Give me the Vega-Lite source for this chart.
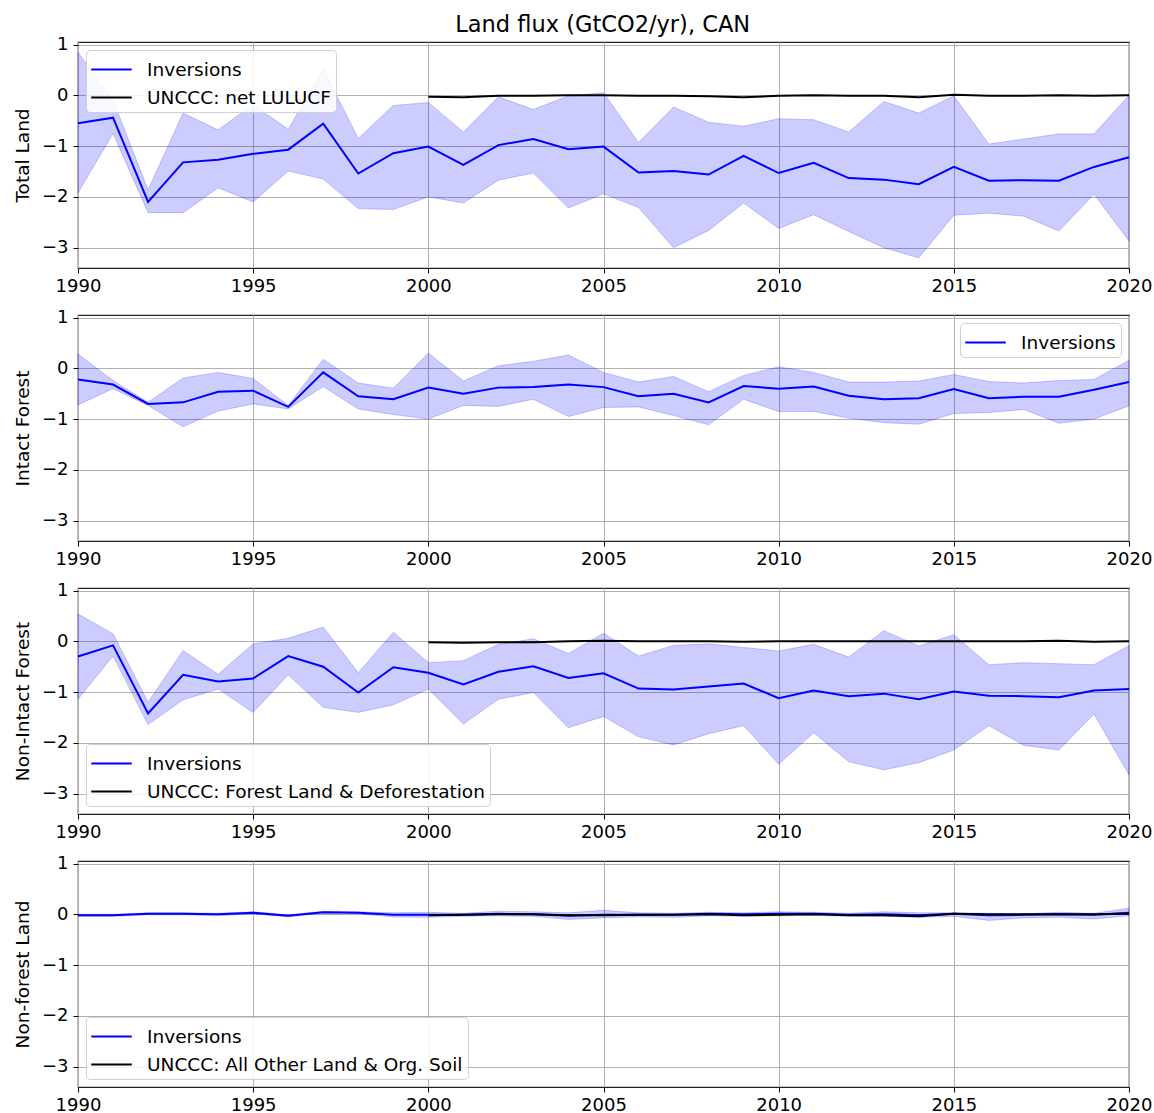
{
  "$schema": "https://vega.github.io/schema/vega-lite/v6.json",
  "padding": {"left": 12, "top": 14, "right": 2, "bottom": 0},
  "title": {"text": "Land flux (GtCO2/yr), CAN", "fontSize": 22.5, "fontWeight": "normal", "font": "DejaVu Sans", "color": "black", "anchor": "middle", "offset": -2, "dx": 20},
  "config": {
    "font": "DejaVu Sans",
    "view": {"stroke": "#222222", "strokeWidth": 1.2},
    "axis": {"domain": false, "gridColor": "#b0b0b0", "gridWidth": 1, "tickColor": "black", "tickSize": 5, "labelFontSize": 18, "labelColor": "black", "labelPadding": 5, "titleFontSize": 18.5, "titleFontWeight": "normal", "titleColor": "black", "titlePadding": 9},
    "axisX": {"labelPadding": 4},
    "legend": {"title": null, "fillColor": "rgba(255,255,255,0.85)", "strokeColor": "#d0d0d0", "cornerRadius": 4, "padding": 5, "symbolType": "M-1.5,0H1.5", "symbolSize": 729, "symbolStrokeWidth": 2, "symbolFillColor": "transparent", "symbolOffset": 6, "labelFontSize": 18.5, "labelColor": "black", "labelLimit": 800, "rowPadding": 4, "labelOffset": 21, "offset": 8}
  },
  "spacing": 11,
  "resolve": {"scale": {"color": "independent"}, "legend": {"color": "independent"}},
  "datasets": {
    "p1": [
      {"year":1990,"series":"Inversions","value":-0.55,"lo":-1.92,"hi":0.85},
      {"year":1991,"series":"Inversions","value":-0.44,"lo":-0.75,"hi":-0.10},
      {"year":1992,"series":"Inversions","value":-2.10,"lo":-2.31,"hi":-1.86},
      {"year":1993,"series":"Inversions","value":-1.32,"lo":-2.31,"hi":-0.35},
      {"year":1994,"series":"Inversions","value":-1.27,"lo":-1.82,"hi":-0.68},
      {"year":1995,"series":"Inversions","value":-1.15,"lo":-2.10,"hi":-0.18},
      {"year":1996,"series":"Inversions","value":-1.07,"lo":-1.49,"hi":-0.67},
      {"year":1997,"series":"Inversions","value":-0.56,"lo":-1.65,"hi":0.52},
      {"year":1998,"series":"Inversions","value":-1.54,"lo":-2.23,"hi":-0.85},
      {"year":1999,"series":"Inversions","value":-1.14,"lo":-2.25,"hi":-0.20},
      {"year":2000,"series":"Inversions","value":-1.01,"lo":-2.00,"hi":-0.14},
      {"year":2001,"series":"Inversions","value":-1.37,"lo":-2.12,"hi":-0.72},
      {"year":2002,"series":"Inversions","value":-0.98,"lo":-1.67,"hi":-0.03},
      {"year":2003,"series":"Inversions","value":-0.86,"lo":-1.53,"hi":-0.28},
      {"year":2004,"series":"Inversions","value":-1.06,"lo":-2.22,"hi":-0.01},
      {"year":2005,"series":"Inversions","value":-1.01,"lo":-1.94,"hi":0.05},
      {"year":2006,"series":"Inversions","value":-1.52,"lo":-2.21,"hi":-0.93},
      {"year":2007,"series":"Inversions","value":-1.49,"lo":-3.00,"hi":-0.23},
      {"year":2008,"series":"Inversions","value":-1.56,"lo":-2.66,"hi":-0.53},
      {"year":2009,"series":"Inversions","value":-1.19,"lo":-2.12,"hi":-0.61},
      {"year":2010,"series":"Inversions","value":-1.53,"lo":-2.62,"hi":-0.46},
      {"year":2011,"series":"Inversions","value":-1.33,"lo":-2.35,"hi":-0.48},
      {"year":2012,"series":"Inversions","value":-1.63,"lo":-2.68,"hi":-0.72},
      {"year":2013,"series":"Inversions","value":-1.66,"lo":-3.00,"hi":-0.12},
      {"year":2014,"series":"Inversions","value":-1.75,"lo":-3.20,"hi":-0.35},
      {"year":2015,"series":"Inversions","value":-1.41,"lo":-2.36,"hi":-0.01},
      {"year":2016,"series":"Inversions","value":-1.68,"lo":-2.32,"hi":-0.96},
      {"year":2017,"series":"Inversions","value":-1.67,"lo":-2.38,"hi":-0.86},
      {"year":2018,"series":"Inversions","value":-1.68,"lo":-2.67,"hi":-0.76},
      {"year":2019,"series":"Inversions","value":-1.41,"lo":-1.95,"hi":-0.76},
      {"year":2020,"series":"Inversions","value":-1.22,"lo":-2.87,"hi":0.00},
      {"year":2000,"series":"UNCCC: net LULUCF","value":-0.03},
      {"year":2001,"series":"UNCCC: net LULUCF","value":-0.04},
      {"year":2002,"series":"UNCCC: net LULUCF","value":-0.01},
      {"year":2003,"series":"UNCCC: net LULUCF","value":-0.01},
      {"year":2004,"series":"UNCCC: net LULUCF","value":0.0},
      {"year":2005,"series":"UNCCC: net LULUCF","value":0.0},
      {"year":2006,"series":"UNCCC: net LULUCF","value":-0.01},
      {"year":2007,"series":"UNCCC: net LULUCF","value":-0.01},
      {"year":2008,"series":"UNCCC: net LULUCF","value":-0.02},
      {"year":2009,"series":"UNCCC: net LULUCF","value":-0.04},
      {"year":2010,"series":"UNCCC: net LULUCF","value":-0.01},
      {"year":2011,"series":"UNCCC: net LULUCF","value":0.0},
      {"year":2012,"series":"UNCCC: net LULUCF","value":-0.01},
      {"year":2013,"series":"UNCCC: net LULUCF","value":-0.01},
      {"year":2014,"series":"UNCCC: net LULUCF","value":-0.04},
      {"year":2015,"series":"UNCCC: net LULUCF","value":0.01},
      {"year":2016,"series":"UNCCC: net LULUCF","value":-0.01},
      {"year":2017,"series":"UNCCC: net LULUCF","value":-0.01},
      {"year":2018,"series":"UNCCC: net LULUCF","value":0.0},
      {"year":2019,"series":"UNCCC: net LULUCF","value":-0.01},
      {"year":2020,"series":"UNCCC: net LULUCF","value":0.0}
    ],
    "p2": [
      {"year":1990,"series":"Inversions","value":-0.22,"lo":-0.72,"hi":0.28},
      {"year":1991,"series":"Inversions","value":-0.32,"lo":-0.40,"hi":-0.24},
      {"year":1992,"series":"Inversions","value":-0.70,"lo":-0.73,"hi":-0.67},
      {"year":1993,"series":"Inversions","value":-0.67,"lo":-1.15,"hi":-0.19},
      {"year":1994,"series":"Inversions","value":-0.46,"lo":-0.84,"hi":-0.08},
      {"year":1995,"series":"Inversions","value":-0.44,"lo":-0.70,"hi":-0.20},
      {"year":1996,"series":"Inversions","value":-0.76,"lo":-0.80,"hi":-0.73},
      {"year":1997,"series":"Inversions","value":-0.08,"lo":-0.36,"hi":0.18},
      {"year":1998,"series":"Inversions","value":-0.55,"lo":-0.80,"hi":-0.29},
      {"year":1999,"series":"Inversions","value":-0.61,"lo":-0.91,"hi":-0.39},
      {"year":2000,"series":"Inversions","value":-0.38,"lo":-1.00,"hi":0.30},
      {"year":2001,"series":"Inversions","value":-0.50,"lo":-0.73,"hi":-0.25},
      {"year":2002,"series":"Inversions","value":-0.38,"lo":-0.75,"hi":0.05},
      {"year":2003,"series":"Inversions","value":-0.37,"lo":-0.61,"hi":0.14},
      {"year":2004,"series":"Inversions","value":-0.32,"lo":-0.95,"hi":0.26},
      {"year":2005,"series":"Inversions","value":-0.37,"lo":-0.77,"hi":-0.08},
      {"year":2006,"series":"Inversions","value":-0.55,"lo":-0.76,"hi":-0.27},
      {"year":2007,"series":"Inversions","value":-0.50,"lo":-0.93,"hi":-0.16},
      {"year":2008,"series":"Inversions","value":-0.67,"lo":-1.11,"hi":-0.46},
      {"year":2009,"series":"Inversions","value":-0.35,"lo":-0.61,"hi":-0.14},
      {"year":2010,"series":"Inversions","value":-0.40,"lo":-0.85,"hi":0.03},
      {"year":2011,"series":"Inversions","value":-0.36,"lo":-0.85,"hi":-0.08},
      {"year":2012,"series":"Inversions","value":-0.54,"lo":-0.98,"hi":-0.27},
      {"year":2013,"series":"Inversions","value":-0.61,"lo":-1.07,"hi":-0.27},
      {"year":2014,"series":"Inversions","value":-0.59,"lo":-1.10,"hi":-0.25},
      {"year":2015,"series":"Inversions","value":-0.41,"lo":-0.89,"hi":-0.12},
      {"year":2016,"series":"Inversions","value":-0.59,"lo":-0.87,"hi":-0.26},
      {"year":2017,"series":"Inversions","value":-0.56,"lo":-0.81,"hi":-0.29},
      {"year":2018,"series":"Inversions","value":-0.56,"lo":-1.08,"hi":-0.24},
      {"year":2019,"series":"Inversions","value":-0.42,"lo":-1.00,"hi":-0.22},
      {"year":2020,"series":"Inversions","value":-0.27,"lo":-0.74,"hi":0.16}
    ],
    "p3": [
      {"year":1990,"series":"Inversions","value":-0.30,"lo":-1.14,"hi":0.54},
      {"year":1991,"series":"Inversions","value":-0.08,"lo":-0.29,"hi":0.15},
      {"year":1992,"series":"Inversions","value":-1.42,"lo":-1.64,"hi":-1.20},
      {"year":1993,"series":"Inversions","value":-0.66,"lo":-1.15,"hi":-0.18},
      {"year":1994,"series":"Inversions","value":-0.79,"lo":-0.94,"hi":-0.65},
      {"year":1995,"series":"Inversions","value":-0.73,"lo":-1.40,"hi":-0.05},
      {"year":1996,"series":"Inversions","value":-0.29,"lo":-0.66,"hi":0.06},
      {"year":1997,"series":"Inversions","value":-0.50,"lo":-1.30,"hi":0.28},
      {"year":1998,"series":"Inversions","value":-1.01,"lo":-1.40,"hi":-0.62},
      {"year":1999,"series":"Inversions","value":-0.51,"lo":-1.25,"hi":0.18},
      {"year":2000,"series":"Inversions","value":-0.62,"lo":-0.94,"hi":-0.42},
      {"year":2001,"series":"Inversions","value":-0.85,"lo":-1.63,"hi":-0.38},
      {"year":2002,"series":"Inversions","value":-0.60,"lo":-1.14,"hi":-0.06},
      {"year":2003,"series":"Inversions","value":-0.49,"lo":-1.01,"hi":0.05},
      {"year":2004,"series":"Inversions","value":-0.72,"lo":-1.70,"hi":-0.24},
      {"year":2005,"series":"Inversions","value":-0.63,"lo":-1.48,"hi":0.16},
      {"year":2006,"series":"Inversions","value":-0.93,"lo":-1.88,"hi":-0.29},
      {"year":2007,"series":"Inversions","value":-0.95,"lo":-2.04,"hi":-0.08},
      {"year":2008,"series":"Inversions","value":-0.89,"lo":-1.82,"hi":-0.05},
      {"year":2009,"series":"Inversions","value":-0.83,"lo":-1.66,"hi":-0.12},
      {"year":2010,"series":"Inversions","value":-1.12,"lo":-2.42,"hi":-0.19},
      {"year":2011,"series":"Inversions","value":-0.97,"lo":-1.80,"hi":-0.06},
      {"year":2012,"series":"Inversions","value":-1.08,"lo":-2.37,"hi":-0.31},
      {"year":2013,"series":"Inversions","value":-1.03,"lo":-2.53,"hi":0.21},
      {"year":2014,"series":"Inversions","value":-1.14,"lo":-2.39,"hi":-0.09},
      {"year":2015,"series":"Inversions","value":-0.99,"lo":-2.14,"hi":0.13},
      {"year":2016,"series":"Inversions","value":-1.07,"lo":-1.66,"hi":-0.46},
      {"year":2017,"series":"Inversions","value":-1.08,"lo":-2.05,"hi":-0.42},
      {"year":2018,"series":"Inversions","value":-1.10,"lo":-2.14,"hi":-0.44},
      {"year":2019,"series":"Inversions","value":-0.97,"lo":-1.43,"hi":-0.46},
      {"year":2020,"series":"Inversions","value":-0.94,"lo":-2.63,"hi":-0.08},
      {"year":2000,"series":"UNCCC: Forest Land & Deforestation","value":-0.02},
      {"year":2001,"series":"UNCCC: Forest Land & Deforestation","value":-0.03},
      {"year":2002,"series":"UNCCC: Forest Land & Deforestation","value":-0.02},
      {"year":2003,"series":"UNCCC: Forest Land & Deforestation","value":-0.02},
      {"year":2004,"series":"UNCCC: Forest Land & Deforestation","value":0.0},
      {"year":2005,"series":"UNCCC: Forest Land & Deforestation","value":0.01},
      {"year":2006,"series":"UNCCC: Forest Land & Deforestation","value":0.0},
      {"year":2007,"series":"UNCCC: Forest Land & Deforestation","value":0.0},
      {"year":2008,"series":"UNCCC: Forest Land & Deforestation","value":0.0},
      {"year":2009,"series":"UNCCC: Forest Land & Deforestation","value":-0.01},
      {"year":2010,"series":"UNCCC: Forest Land & Deforestation","value":0.0},
      {"year":2011,"series":"UNCCC: Forest Land & Deforestation","value":0.0},
      {"year":2012,"series":"UNCCC: Forest Land & Deforestation","value":0.0},
      {"year":2013,"series":"UNCCC: Forest Land & Deforestation","value":0.0},
      {"year":2014,"series":"UNCCC: Forest Land & Deforestation","value":0.0},
      {"year":2015,"series":"UNCCC: Forest Land & Deforestation","value":0.0},
      {"year":2016,"series":"UNCCC: Forest Land & Deforestation","value":0.0},
      {"year":2017,"series":"UNCCC: Forest Land & Deforestation","value":0.0},
      {"year":2018,"series":"UNCCC: Forest Land & Deforestation","value":0.01},
      {"year":2019,"series":"UNCCC: Forest Land & Deforestation","value":-0.01},
      {"year":2020,"series":"UNCCC: Forest Land & Deforestation","value":0.0}
    ],
    "p4": [
      {"year":1990,"series":"Inversions","value":-0.02,"lo":-0.04,"hi":0.0},
      {"year":1991,"series":"Inversions","value":-0.02,"lo":-0.04,"hi":0.0},
      {"year":1992,"series":"Inversions","value":0.01,"lo":-0.01,"hi":0.03},
      {"year":1993,"series":"Inversions","value":0.01,"lo":-0.01,"hi":0.03},
      {"year":1994,"series":"Inversions","value":0.0,"lo":-0.03,"hi":0.02},
      {"year":1995,"series":"Inversions","value":0.03,"lo":0.01,"hi":0.05},
      {"year":1996,"series":"Inversions","value":-0.03,"lo":-0.05,"hi":-0.01},
      {"year":1997,"series":"Inversions","value":0.04,"lo":0.02,"hi":0.06},
      {"year":1998,"series":"Inversions","value":0.03,"lo":0.01,"hi":0.05},
      {"year":1999,"series":"Inversions","value":-0.01,"lo":-0.05,"hi":0.03},
      {"year":2000,"series":"Inversions","value":-0.01,"lo":-0.06,"hi":0.04},
      {"year":2001,"series":"Inversions","value":-0.01,"lo":-0.04,"hi":0.02},
      {"year":2002,"series":"Inversions","value":0.01,"lo":-0.03,"hi":0.06},
      {"year":2003,"series":"Inversions","value":0.0,"lo":-0.04,"hi":0.05},
      {"year":2004,"series":"Inversions","value":-0.03,"lo":-0.10,"hi":0.03},
      {"year":2005,"series":"Inversions","value":-0.01,"lo":-0.07,"hi":0.08},
      {"year":2006,"series":"Inversions","value":-0.01,"lo":-0.05,"hi":0.03},
      {"year":2007,"series":"Inversions","value":-0.01,"lo":-0.06,"hi":0.02},
      {"year":2008,"series":"Inversions","value":0.01,"lo":-0.03,"hi":0.04},
      {"year":2009,"series":"Inversions","value":0.0,"lo":-0.04,"hi":0.03},
      {"year":2010,"series":"Inversions","value":0.01,"lo":-0.03,"hi":0.05},
      {"year":2011,"series":"Inversions","value":0.01,"lo":-0.02,"hi":0.04},
      {"year":2012,"series":"Inversions","value":-0.01,"lo":-0.04,"hi":0.02},
      {"year":2013,"series":"Inversions","value":0.0,"lo":-0.04,"hi":0.05},
      {"year":2014,"series":"Inversions","value":-0.02,"lo":-0.06,"hi":0.03},
      {"year":2015,"series":"Inversions","value":0.01,"lo":-0.04,"hi":0.03},
      {"year":2016,"series":"Inversions","value":-0.02,"lo":-0.12,"hi":0.02},
      {"year":2017,"series":"Inversions","value":-0.01,"lo":-0.07,"hi":0.01},
      {"year":2018,"series":"Inversions","value":0.0,"lo":-0.06,"hi":0.04},
      {"year":2019,"series":"Inversions","value":-0.01,"lo":-0.09,"hi":0.02},
      {"year":2020,"series":"Inversions","value":0.03,"lo":-0.03,"hi":0.12},
      {"year":2000,"series":"UNCCC: All Other Land & Org. Soil","value":-0.02},
      {"year":2001,"series":"UNCCC: All Other Land & Org. Soil","value":-0.01},
      {"year":2002,"series":"UNCCC: All Other Land & Org. Soil","value":0.0},
      {"year":2003,"series":"UNCCC: All Other Land & Org. Soil","value":0.0},
      {"year":2004,"series":"UNCCC: All Other Land & Org. Soil","value":-0.02},
      {"year":2005,"series":"UNCCC: All Other Land & Org. Soil","value":-0.02},
      {"year":2006,"series":"UNCCC: All Other Land & Org. Soil","value":-0.01},
      {"year":2007,"series":"UNCCC: All Other Land & Org. Soil","value":-0.01},
      {"year":2008,"series":"UNCCC: All Other Land & Org. Soil","value":0.0},
      {"year":2009,"series":"UNCCC: All Other Land & Org. Soil","value":-0.02},
      {"year":2010,"series":"UNCCC: All Other Land & Org. Soil","value":-0.01},
      {"year":2011,"series":"UNCCC: All Other Land & Org. Soil","value":0.0},
      {"year":2012,"series":"UNCCC: All Other Land & Org. Soil","value":-0.02},
      {"year":2013,"series":"UNCCC: All Other Land & Org. Soil","value":-0.02},
      {"year":2014,"series":"UNCCC: All Other Land & Org. Soil","value":-0.04},
      {"year":2015,"series":"UNCCC: All Other Land & Org. Soil","value":0.01},
      {"year":2016,"series":"UNCCC: All Other Land & Org. Soil","value":0.0},
      {"year":2017,"series":"UNCCC: All Other Land & Org. Soil","value":0.0},
      {"year":2018,"series":"UNCCC: All Other Land & Org. Soil","value":0.0},
      {"year":2019,"series":"UNCCC: All Other Land & Org. Soil","value":0.0},
      {"year":2020,"series":"UNCCC: All Other Land & Org. Soil","value":0.01}
    ]
  },
  "vconcat": [
    {
      "width": 1051, "height": 226,
      "data": {"name": "p1"},
      "encoding": {
        "x": {"field": "year", "type": "quantitative", "scale": {"domain": [1990, 2020], "nice": false, "zero": false}, "axis": {"values": [1990,1995,2000,2005,2010,2015,2020], "format": "d", "title": null, "labelFlush": false}}
      },
      "layer": [
        {"transform": [{"filter": "datum.series === 'Inversions'"}], "mark": {"type": "area", "fill": "blue", "fillOpacity": 0.2, "stroke": "blue", "strokeOpacity": 0.2, "strokeWidth": 1},
         "encoding": {"y": {"field": "lo", "type": "quantitative", "scale": {"domain": [-3.4, 1.05], "nice": false, "zero": false}, "axis": {"values": [-3,-2,-1,0,1], "title": "Total Land"}}, "y2": {"field": "hi"}}},
        {"mark": {"type": "line", "strokeWidth": 2},
         "encoding": {"y": {"field": "value", "type": "quantitative"}, "color": {"field": "series", "type": "nominal", "scale": {"domain": ["Inversions", "UNCCC: net LULUCF"], "range": ["#0000ff", "#000000"]}, "legend": {"orient": "top-left"}}}}
      ]
    },
    {
      "width": 1051, "height": 226,
      "data": {"name": "p2"},
      "encoding": {
        "x": {"field": "year", "type": "quantitative", "scale": {"domain": [1990, 2020], "nice": false, "zero": false}, "axis": {"values": [1990,1995,2000,2005,2010,2015,2020], "format": "d", "title": null, "labelFlush": false}}
      },
      "layer": [
        {"mark": {"type": "area", "fill": "blue", "fillOpacity": 0.2, "stroke": "blue", "strokeOpacity": 0.2, "strokeWidth": 1},
         "encoding": {"y": {"field": "lo", "type": "quantitative", "scale": {"domain": [-3.4, 1.05], "nice": false, "zero": false}, "axis": {"values": [-3,-2,-1,0,1], "title": "Intact Forest"}}, "y2": {"field": "hi"}}},
        {"mark": {"type": "line", "strokeWidth": 2},
         "encoding": {"y": {"field": "value", "type": "quantitative"}, "color": {"field": "series", "type": "nominal", "scale": {"domain": ["Inversions"], "range": ["#0000ff"]}, "legend": {"orient": "top-right"}}}}
      ]
    },
    {
      "width": 1051, "height": 226,
      "data": {"name": "p3"},
      "encoding": {
        "x": {"field": "year", "type": "quantitative", "scale": {"domain": [1990, 2020], "nice": false, "zero": false}, "axis": {"values": [1990,1995,2000,2005,2010,2015,2020], "format": "d", "title": null, "labelFlush": false}}
      },
      "layer": [
        {"transform": [{"filter": "datum.series === 'Inversions'"}], "mark": {"type": "area", "fill": "blue", "fillOpacity": 0.2, "stroke": "blue", "strokeOpacity": 0.2, "strokeWidth": 1},
         "encoding": {"y": {"field": "lo", "type": "quantitative", "scale": {"domain": [-3.4, 1.05], "nice": false, "zero": false}, "axis": {"values": [-3,-2,-1,0,1], "title": "Non-Intact Forest"}}, "y2": {"field": "hi"}}},
        {"mark": {"type": "line", "strokeWidth": 2},
         "encoding": {"y": {"field": "value", "type": "quantitative"}, "color": {"field": "series", "type": "nominal", "scale": {"domain": ["Inversions", "UNCCC: Forest Land & Deforestation"], "range": ["#0000ff", "#000000"]}, "legend": {"orient": "bottom-left"}}}}
      ]
    },
    {
      "width": 1051, "height": 226,
      "data": {"name": "p4"},
      "encoding": {
        "x": {"field": "year", "type": "quantitative", "scale": {"domain": [1990, 2020], "nice": false, "zero": false}, "axis": {"values": [1990,1995,2000,2005,2010,2015,2020], "format": "d", "title": null, "labelFlush": false}}
      },
      "layer": [
        {"transform": [{"filter": "datum.series === 'Inversions'"}], "mark": {"type": "area", "fill": "blue", "fillOpacity": 0.2, "stroke": "blue", "strokeOpacity": 0.2, "strokeWidth": 1},
         "encoding": {"y": {"field": "lo", "type": "quantitative", "scale": {"domain": [-3.4, 1.05], "nice": false, "zero": false}, "axis": {"values": [-3,-2,-1,0,1], "title": "Non-forest Land"}}, "y2": {"field": "hi"}}},
        {"mark": {"type": "line", "strokeWidth": 2},
         "encoding": {"y": {"field": "value", "type": "quantitative"}, "color": {"field": "series", "type": "nominal", "scale": {"domain": ["Inversions", "UNCCC: All Other Land & Org. Soil"], "range": ["#0000ff", "#000000"]}, "legend": {"orient": "bottom-left"}}}}
      ]
    }
  ]
}
